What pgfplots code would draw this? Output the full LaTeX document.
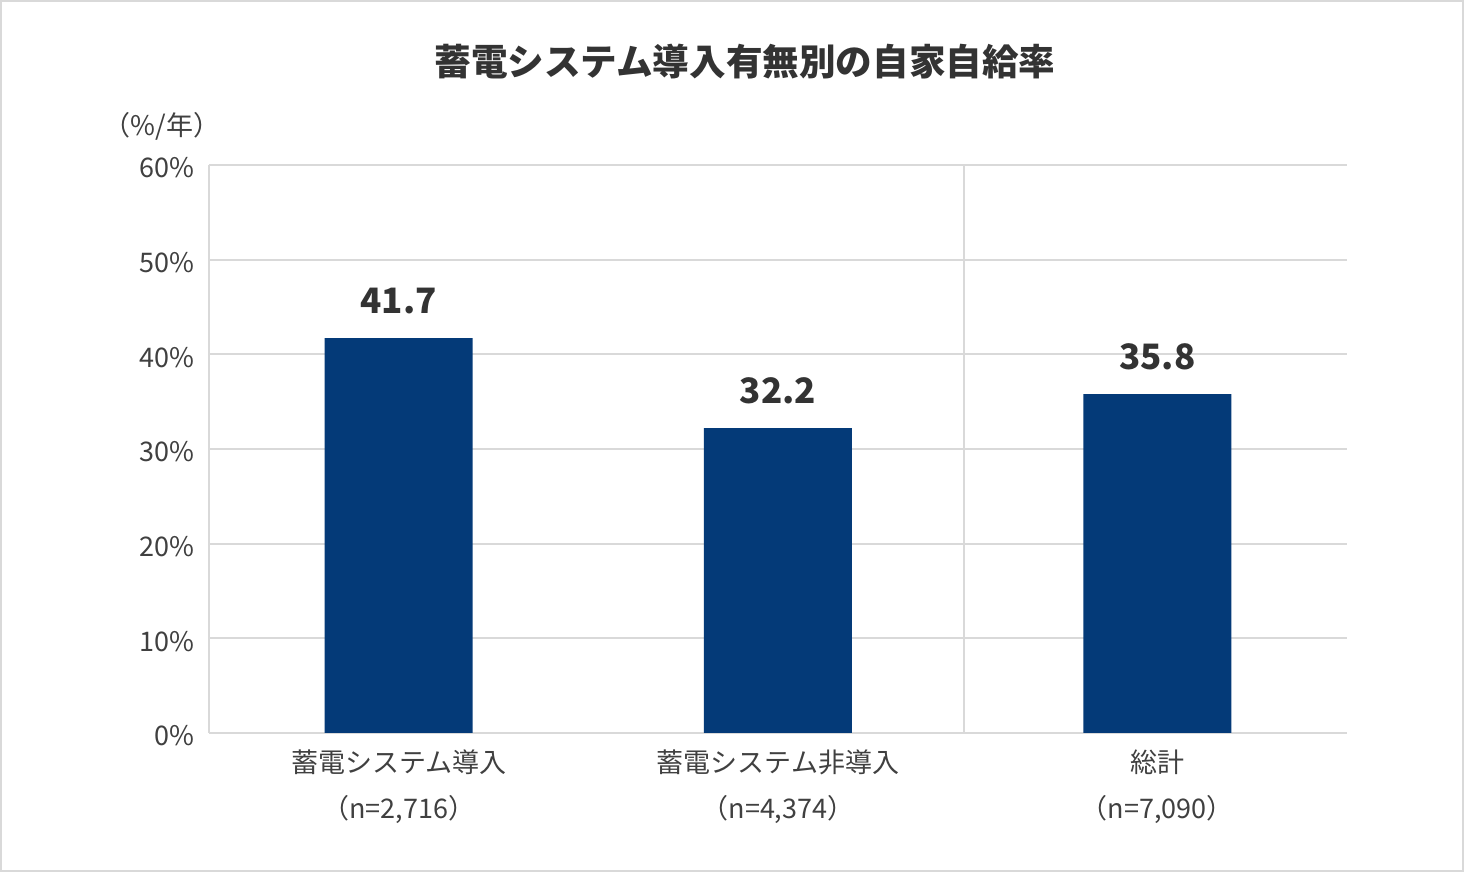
\documentclass[border=0pt]{standalone}
\usepackage{fontspec}
\setmainfont{Noto Sans CJK JP}
\usepackage{pgfplots}
\pgfplotsset{compat=1.18}
\definecolor{barblue}{HTML}{043A78}
\definecolor{gridgray}{HTML}{D9D9D9}
\definecolor{txt}{HTML}{404040}
\definecolor{ttl}{HTML}{333333}
\begin{document}
\begin{tikzpicture}[x=1pt,y=1pt]
\useasboundingbox (0,0) rectangle (732,436);
\draw[gridgray,line width=1pt] (0.5,0.5) rectangle (731.5,435.5);
\node[font=\fontsize{18.3}{22}\selectfont\bfseries,text=ttl] at (372.5,405) {蓄電システム導入有無別の自家自給率};
\node[font=\fontsize{13.5}{16}\selectfont,text=txt] at (81,373) {（\%/年）};
\begin{axis}[
  at={(104.5pt,69.5pt)}, anchor=south west,
  scale only axis, width=569pt, height=284pt,
  xmin=-0.5, xmax=2.5, ymin=0, ymax=60,
  ytick={0,10,...,60},
  xtick={0,1,2},
  xticklabels={{蓄電システム導入\\（n=2,716）},{蓄電システム非導入\\（n=4,374）},{総計\\（n=7,090）}},
  xticklabel style={align=center, font=\fontsize{13.5}{23}\selectfont, text=txt, yshift=-5pt},
  yticklabel={\pgfmathprintnumber{\tick}\%},
  yticklabel style={font=\fontsize{13.5}{16}\selectfont, text=txt, xshift=-4pt, yshift=-1.5pt},
  /pgf/number format/assume math mode=true,
  major tick length=0pt,
  axis x line*=bottom, axis y line*=left,
  axis line style={gridgray, line width=1pt},
  ymajorgrids, grid style={gridgray, line width=1pt},
  extra x ticks={1.49}, extra x tick labels={},
  extra x tick style={xmajorgrids, major grid style={gridgray, line width=1pt}},
  ybar, bar width=74pt,
  nodes near coords={\pgfmathprintnumber[fixed,precision=1,fixed zerofill]{\pgfplotspointmeta}},
  nodes near coords style={font=\fontsize{17.5}{20}\selectfont\bfseries, text=ttl, anchor=base, inner sep=0pt, yshift=12.5pt},
  clip=false,
]
\addplot[fill=barblue, draw=none] coordinates {(0,41.7) (1,32.2) (2,35.8)};
\end{axis}
\end{tikzpicture}
\end{document}
